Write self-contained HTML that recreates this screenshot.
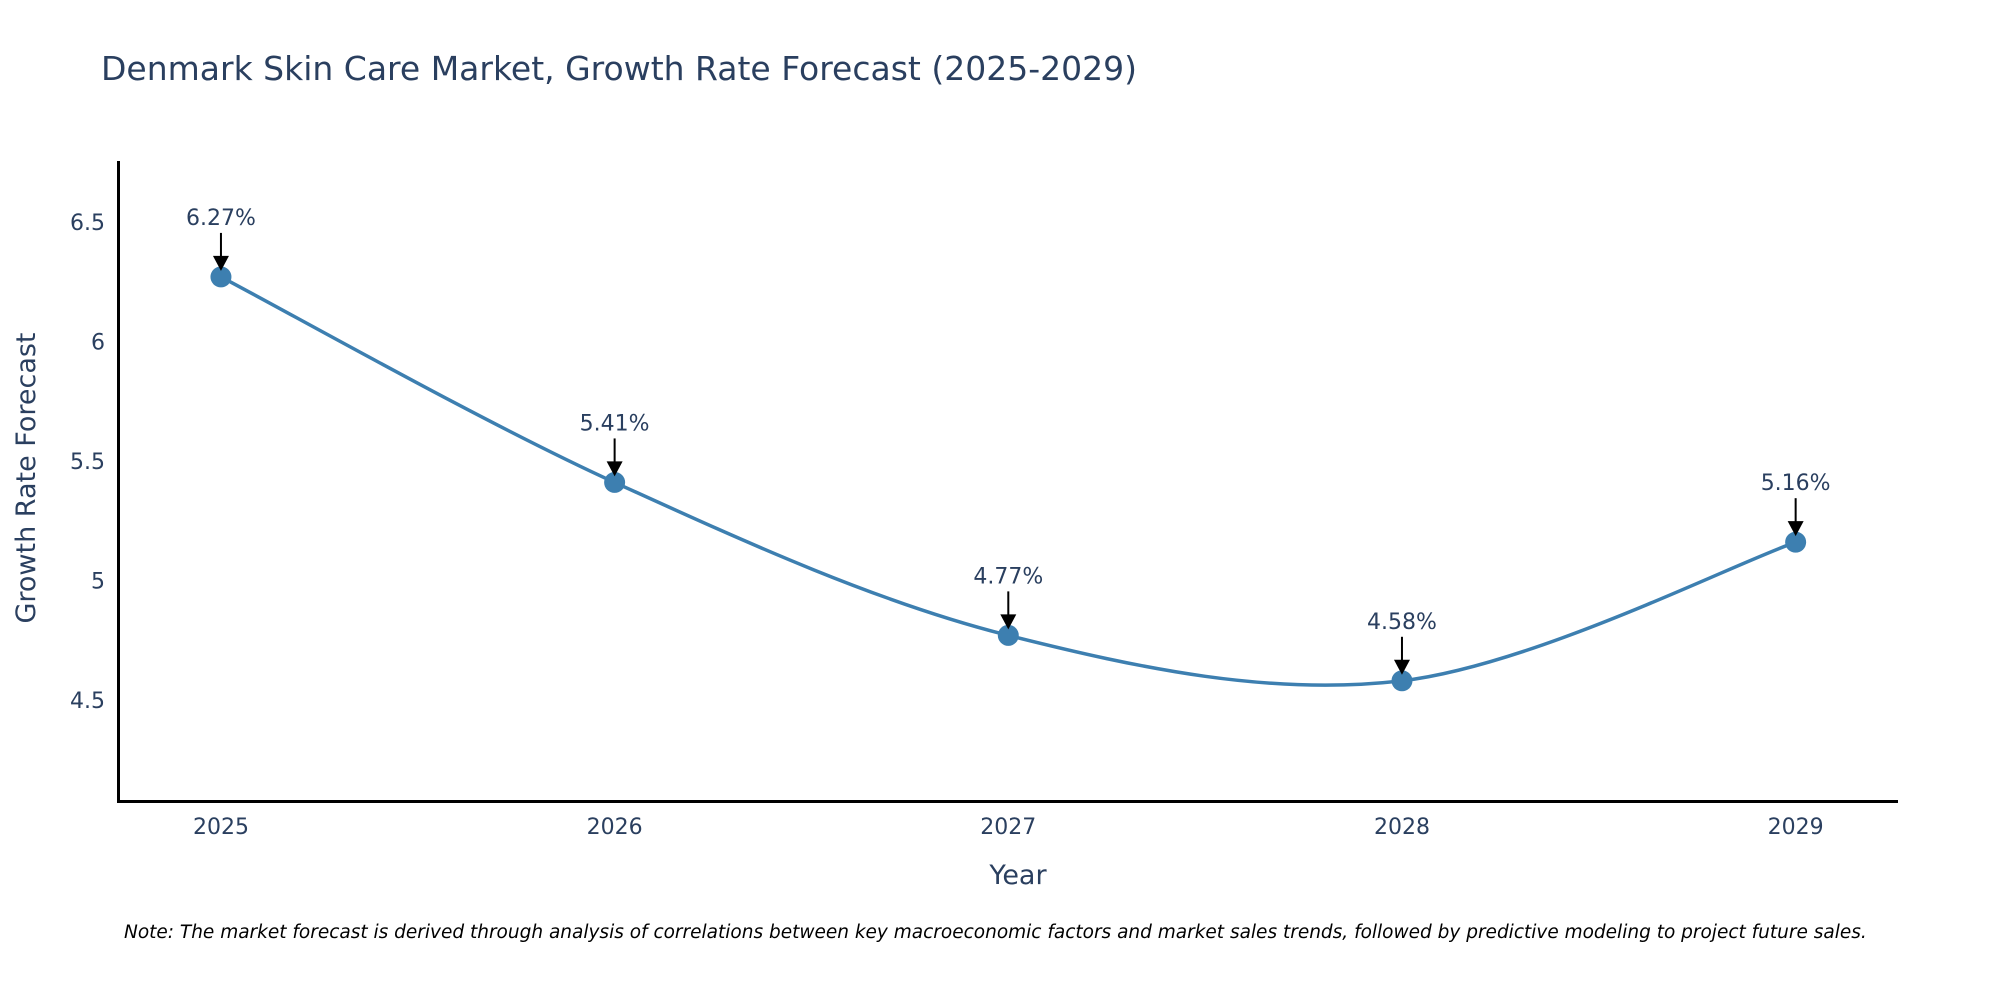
<!DOCTYPE html>
<html><head><meta charset="utf-8"><style>
html,body{margin:0;padding:0;background:#fff;}
svg text{font-family:"DejaVu Sans","Liberation Sans",sans-serif;fill:#2a3f5f;}
</style></head><body>
<svg width="2000" height="1000" viewBox="0 0 2000 1000" xmlns="http://www.w3.org/2000/svg">
<text x="101" y="80" font-size="33">Denmark Skin Care Market, Growth Rate Forecast (2025-2029)</text>
<g id="yticks"></g>
<g id="xticks"></g>
<path id="line" fill="none" stroke="#3d7fb0" stroke-width="3.5"/>
<g id="marks"></g>
<g id="ann"></g>
<line x1="118.5" y1="161" x2="118.5" y2="802" stroke="#000" stroke-width="3"/>
<line x1="117" y1="801.5" x2="1898" y2="801.5" stroke="#000" stroke-width="3"/>
<text x="1018" y="884" font-size="27" text-anchor="middle">Year</text>
<text transform="translate(35,478) rotate(-90)" font-size="27" text-anchor="middle">Growth Rate Forecast</text>
<text x="124" y="938" font-size="18.5" font-style="italic" style="fill:#000">Note: The market forecast is derived through analysis of correlations between key macroeconomic factors and market sales trends, followed by predictive modeling to project future sales.</text>
</svg>
<script>
const years=[2025,2026,2027,2028,2029];
const values=[6.27,5.41,4.77,4.58,5.16];
const labels=["6.27%","5.41%","4.77%","4.58%","5.16%"];
const yTicks=[4.5,5,5.5,6,6.5];
const yTickLabels=["4.5","5","5.5","6","6.5"];
const NS="http://www.w3.org/2000/svg";
const X0=118.6,X1=1898,XMIN=2024.74,XMAX=2029.26;
const Y0=801,Y1=161,YMIN=4.077,YMAX=6.755;
function xs(v){return X0+(v-XMIN)/(XMAX-XMIN)*(X1-X0);}
function ys(v){return Y0-(v-YMIN)/(YMAX-YMIN)*(Y0-Y1);}
function mk(tag,attrs,parent){const e=document.createElementNS(NS,tag);for(const k in attrs)e.setAttribute(k,attrs[k]);parent.appendChild(e);return e;}
const yt=document.getElementById('yticks');
yTicks.forEach((t,i)=>{const e=mk('text',{x:105,y:ys(t)+8,'font-size':22,'text-anchor':'end'},yt);


e.textContent=yTickLabels[i];});
const xt=document.getElementById('xticks');
years.forEach(y=>{const e=mk('text',{x:xs(y),y:834,'font-size':22,'text-anchor':'middle'},xt);


e.textContent=String(y);});
const P=years.map((y,i)=>[xs(y),ys(values[i])]);
let d=`M${P[0][0]},${P[0][1]}`;const s=1/6;
for(let i=0;i<P.length-1;i++){const p0=P[Math.max(0,i-1)],p1=P[i],p2=P[i+1],p3=P[Math.min(P.length-1,i+2)];
const c1=[p1[0]+(p2[0]-p0[0])*s,p1[1]+(p2[1]-p0[1])*s];
const c2=[p2[0]-(p3[0]-p1[0])*s,p2[1]-(p3[1]-p1[1])*s];
d+=` C${c1[0]},${c1[1]} ${c2[0]},${c2[1]} ${p2[0]},${p2[1]}`;}
document.getElementById('line').setAttribute('d',d);
const mg=document.getElementById('marks'),an=document.getElementById('ann');
P.forEach((p,i)=>{const c=mk('circle',{cx:p[0],cy:p[1],r:10.5,fill:'#3d7fb0'},mg);


const l=mk('line',{x1:p[0],y1:p[1]-44,x2:p[0],y2:p[1]-20,stroke:'#000','stroke-width':2},an);


const h=mk('polygon',{points:`${p[0]-8},${p[1]-21} ${p[0]+8},${p[1]-21} ${p[0]},${p[1]-6}`,fill:'#000'},an);


const t=mk('text',{x:p[0],y:p[1]-52,'font-size':22,'text-anchor':'middle'},an);


t.textContent=labels[i];});
</script>
</body></html>
